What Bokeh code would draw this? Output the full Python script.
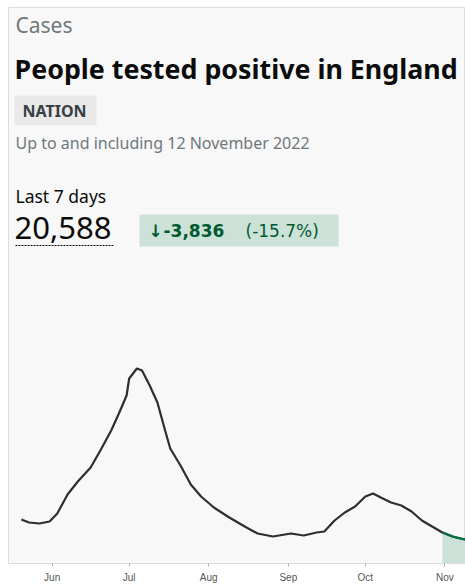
import pandas as pd
from bokeh.plotting import figure
from bokeh.models import Range1d, FixedTicker, DatetimeTickFormatter
from bokeh.core.properties import value
from bokeh.embed import file_html
from bokeh.resources import INLINE

# daily cases, 7-day average
dates = ["2022-05-20", "2022-05-23", "2022-05-27", "2022-05-31", "2022-06-03", "2022-06-07",
         "2022-06-11", "2022-06-16", "2022-06-20", "2022-06-24", "2022-06-27", "2022-06-30",
         "2022-07-01", "2022-07-04", "2022-07-06", "2022-07-09", "2022-07-12", "2022-07-15",
         "2022-07-17", "2022-07-21", "2022-07-25", "2022-07-29", "2022-08-03", "2022-08-09",
         "2022-08-15", "2022-08-20", "2022-08-26", "2022-09-02", "2022-09-07", "2022-09-12",
         "2022-09-15", "2022-09-19", "2022-09-23", "2022-09-27", "2022-10-01", "2022-10-04",
         "2022-10-07", "2022-10-11", "2022-10-15", "2022-10-19", "2022-10-23", "2022-10-27",
         "2022-10-31", "2022-11-04", "2022-11-07", "2022-11-09", "2022-11-12"]
cases = [5368, 5002, 4880, 5124, 6100, 8418, 10004, 11712, 13908, 16226, 18300, 20496,
         22570, 23790, 23546, 21716, 19642, 16226, 14030, 11956, 9638, 8174, 6832, 5612,
         4514, 3660, 3294, 3660, 3416, 3782, 3904, 5246, 6222, 6954, 8174, 8540,
         8052, 7442, 7076, 6344, 5246, 4514, 3782, 3294, 3050, 2928, 2850]
month_ticks = ["2022-06-01", "2022-07-01", "2022-08-01", "2022-09-01", "2022-10-01", "2022-11-01"]
last_week_start = "2022-10-31"

df = pd.DataFrame({"date": pd.to_datetime(dates), "cases": cases})
recent = df[df.date >= pd.Timestamp(last_week_start)]

W, H, AX, L, T = 465, 586, 23, 8, 7
p = figure(width=W, height=H, output_backend="svg", toolbar_location=None,
           x_axis_type="datetime",
           x_range=Range1d(pd.Timestamp("2022-05-15"), pd.Timestamp("2022-11-09")),
           y_range=Range1d(0, 67830),
           min_border_left=L, min_border_right=0, min_border_top=T, min_border_bottom=AX)
p.extra_x_ranges = {"px": Range1d(L, W)}
p.extra_y_ranges = {"px": Range1d(0, H - AX - T)}
p.background_fill_color = "#f8f8f8"
p.border_fill_color = "#ffffff"
p.outline_line_color = "#dcdcdc"
p.grid.visible = False
p.yaxis.visible = False

ax = p.xaxis[0]
ax.ticker = FixedTicker(ticks=[pd.Timestamp(t).value / 1e6 for t in month_ticks])
ax.formatter = DatetimeTickFormatter(months="%b", days="%b")
ax.axis_line_color = "#dddddd"
ax.major_tick_line_color = "#aaaaaa"
ax.major_tick_in = 0
ax.major_tick_out = 3
ax.minor_tick_line_color = None
ax.major_label_text_font = "Liberation Sans"
ax.major_label_text_font_size = "10px"
ax.major_label_text_color = "#555555"

# last 7 days shading and line
p.varea(x=recent.date, y1=0, y2=recent.cases, fill_color="#cce2d8")
p.line(df.date, df.cases, line_color="#2b2f30", line_width=2.2)
p.line(recent.date, recent.cases, line_color="#00703c", line_width=2.2)

# header, drawn in pixel space (page coordinates)
kw = dict(x_range_name="px", y_range_name="px")
B = H - AX
def txt(x, y, s, size, color, bold=False, font="Noto Sans"):
    p.text(x=[x], y=[B - y], text=[s], text_font=value(font),
           text_font_size=size, text_color=color, text_baseline="middle",
           text_font_style="bold" if bold else "normal", **kw)

txt(15, 24, "Cases", "21px", "#6f777b")
txt(14, 68, "People tested positive in England", "26.8px", "#0b0c0c", bold=True)
p.quad(left=[14], right=[96], bottom=[B - 125], top=[B - 95],
       fill_color="#e9e9e9", line_color=None, **kw)
txt(22, 110, "NATION", "16px", "#383f43", bold=True)
txt(15, 142, "Up to and including 12 November 2022", "16px", "#6f777b")
txt(15, 195, "Last 7 days", "17.5px", "#0b0c0c")
txt(14, 227, "20,588", "31px", "#0b0c0c")
p.segment(x0=[15], x1=[114], y0=[B - 245], y1=[B - 245],
          line_color="#0b0c0c", line_dash="2 1", line_width=1, **kw)
p.quad(left=[139], right=[338], bottom=[B - 246], top=[B - 214],
       fill_color="#cce2d8", line_color=None, **kw)
txt(148, 230, "\u2193", "17px", "#005a30", bold=True, font="DejaVu Sans")
txt(163, 230, "-3,836", "17px", "#005a30", bold=True, font="DejaVu Sans")
txt(245, 230, "(-15.7%)", "17px", "#005a30", font="DejaVu Sans")

open("out.html", "w").write(file_html(p, INLINE))
